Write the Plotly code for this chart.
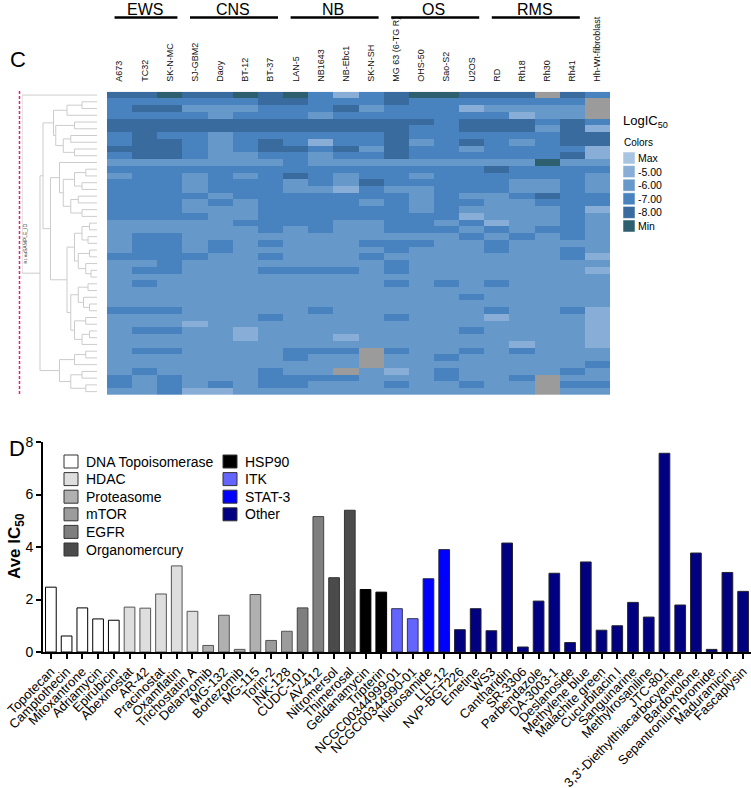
import plotly.graph_objects as go

W, H = 751, 788
FONT = "Arial, Liberation Sans, sans-serif"


def fx(p):
    return p / W


def fy(p):
    return 1 - p / H


# ---------------- panel C : heatmap data ----------------
cell_lines = ["A673", "TC32", "SK-N-MC", "SJ-GBM2", "Daoy", "BT-12", "BT-37",
              "LAN-5", "NB1643", "NB-Ebc1", "SK-N-SH", "MG 63 (6-TG R)", "OHS-50",
              "Sao-S2", "U2OS", "RD", "Rh18", "Rh30", "Rh41", "Hh-Wt-fibroblast"]
groups = [("EWS", 0, 2), ("CNS", 3, 6), ("NB", 7, 10), ("OS", 11, 14), ("RMS", 15, 18)]

# level codes: 0=Max, 1=-5, 2=-6, 3=-7, 4=-8, 5=Min, x=missing
heat_rows = [
    "445 4454 5313 4554 44x43",
    "333 3334 4333 4333 3333x",
    "344 2223 3342 3331 2222x",
    "333 3233 3233 3333 3122x",
    "444 4444 4444 4434 44343",
    "444 4444 4444 4334 44241",
    "343 3233 3333 4333 33344",
    "344 3234 3133 4234 32344",
    "444 3234 4342 4332 33331",
    "344 3223 3233 4333 33341",
    "222 2222 3222 2222 22522",
    "333 3333 3333 3333 43333",
    "233 2323 4323 3233 33332",
    "333 2333 2324 3333 32232",
    "333 2333 2213 2233 32232",
    "333 3233 3333 3232 23433",
    "333 2323 3332 3233 22333",
    "333 2223 3333 3232 22231",
    "333 3223 3333 3331 22232",
    "222 2233 3322 3323 12232",
    "222 2223 2322 3332 32332",
    "233 2222 2222 2223 23232",
    "233 2323 2223 3322 32222",
    "233 2322 2222 3222 32232",
    "333 3223 2223 2222 22231",
    "223 2222 2222 3222 22222",
    "233 2223 3332 3222 22221",
    "222 2222 2222 2222 22222",
    "232 2222 2222 3232 32222",
    "222 2222 2222 2222 22222",
    "222 2222 2222 2223 22222",
    "222 2222 2222 2222 22222",
    "333 2222 2322 2222 32231",
    "222 2223 2222 3222 12221",
    "222 1222 2222 2222 22221",
    "233 2212 2222 2223 22221",
    "222 2212 2212 2222 22221",
    "222 2222 2222 2222 21221",
    "233 2222 333x 3223 23222",
    "222 2222 322x 2232 22222",
    "222 2222 222x 2222 22223",
    "232 2223 22x2 1232 22232",
    "323 2223 3332 2232 23x22",
    "323 2323 3222 3223 22x33",
    "223 1122 2222 2222 22x22",
]
level_labels = ["Max", "-5.00", "-6.00", "-7.00", "-8.00", "Min"]
level_colors = ["#a9c4e1", "#88aed8", "#6698c9", "#4883bf", "#3a6b9e", "#2e5f6f"]
missing_color = "#9b9b9b"

# dendrogram (node = [height, left, right]; leaves = row indices)
tree = [1.0, 0,
        [0.76,
         [0.72,
          [0.58, [0.40, [0.20, 1, 2], 3],
           [0.55, [0.30, 4, 5], [0.45, [0.35, 6, 7], [0.30, 8, 9]]]],
          [0.62,
           [0.50, 10, [0.45, [0.30, [0.15, 11, 12], [0.20, 13, 14]],
                       [0.35, [0.25, 15, 16], [0.20, 17, 18]]]],
           [0.40,
            [0.30, [0.20, [0.10, 19, 20], [0.12, 21, 22]],
             [0.25, [0.10, 23, 24], [0.15, 25, [0.08, 26, 27]]]],
            [0.35, [0.25, [0.12, 28, 29], [0.18, 30, [0.10, 31, 32]]],
             [0.30, [0.15, 33, 34], [0.20, [0.10, 35, 36], 37]]]]]],
         [0.50, [0.30, [0.15, 38, 39], 40], [0.35, [0.20, 41, 42], [0.15, 43, 44]]]]]

# ---------------- panel D : bar data ----------------
drugs = ["Topotecan", "Camptothecin", "Mitoxantrone", "Adriamycin", "Epirubicin",
         "Abexinostat", "AR-42", "Pracinostat", "Oxamflatin", "Trichostatin A",
         "Delanzomib", "MG-132", "Bortezomib", "MG-115", "Torin-2", "INK-128",
         "CUDC-101", "AV-412", "Nitromersol", "Thimerosal", "Geldanamycin", "Tripterin",
         "NCGC00344999-01", "NCGC00344990-01", "Niclosamide", "LLL-12", "NVP-BGT226",
         "Emetine", "WS3", "Cantharidin", "SR-3306", "Parbendazole", "DA-3003-1",
         "Deslanoside", "Methylene blue", "Malachite green", "Cucurbitacin I",
         "Sanguinarine", "Methylrosaniline", "JTC-801", "3,3'-Diethylthiacarbocyanine",
         "Bardoxolone", "Sepantronium bromide", "Maduramicin", "Fascaplysin"]
ave_ic50 = [2.47, 0.61, 1.68, 1.26, 1.21, 1.71, 1.67, 2.21, 3.28, 1.55,
            0.25, 1.40, 0.10, 2.19, 0.44, 0.79, 1.68, 5.16, 2.83, 5.40,
            2.38, 2.28, 1.65, 1.27, 2.79, 3.90, 0.85, 1.65, 0.81, 4.15,
            0.19, 1.94, 3.00, 0.36, 3.43, 0.83, 1.00, 1.89, 1.33, 7.57,
            1.79, 3.77, 0.10, 3.03, 2.31]
drug_class = (["DNA Topoisomerase"] * 5 + ["HDAC"] * 5 + ["Proteasome"] * 4 +
              ["mTOR"] * 2 + ["EGFR"] * 2 + ["Organomercury"] * 2 + ["HSP90"] * 2 +
              ["ITK"] * 2 + ["STAT-3"] * 2 + ["Other"] * 19)
class_names = ["DNA Topoisomerase", "HDAC", "Proteasome", "mTOR", "EGFR",
               "Organomercury", "HSP90", "ITK", "STAT-3", "Other"]
class_fill = ["#ffffff", "#dedede", "#b0b0b0", "#9c9c9c", "#7f7f7f",
              "#4b4b4b", "#000000", "#6464ff", "#0000ff", "#000080"]
class_line = ["#000000", "#555555", "#555555", "#555555", "#444444",
              "#333333", "#000000", "#333355", "#222244", "#222233"]
legend_cols = [class_names[:6], class_names[6:]]

fig = go.Figure()

# ---- heatmap ----
cells = [r.replace(" ", "") for r in heat_rows]
z = [[None if ch == "x" else int(ch) for ch in r] for r in cells]
zmiss = [[1 if ch == "x" else None for ch in r] for r in cells]
nl = len(level_colors)
cs = []
for i, c in enumerate(level_colors):
    cs += [[i / nl, c], [(i + 1) / nl, c]]
rows = list(range(len(cells)))
fig.add_trace(go.Heatmap(z=z, x=cell_lines, y=rows, colorscale=cs, zmin=-0.5,
                         zmax=nl - 0.5, showscale=False, xaxis="x", yaxis="y",
                         hoverinfo="skip"))
fig.add_trace(go.Heatmap(z=zmiss, x=cell_lines, y=rows,
                         colorscale=[[0, missing_color], [1, missing_color]],
                         showscale=False, xaxis="x", yaxis="y", hoverinfo="skip"))

# ---- dendrogram ----
dx, dy = [], []


def walk(node):
    if isinstance(node, int):
        return node, 0.0
    h, a, b = node
    ya, ha = walk(a)
    yb, hb = walk(b)
    dx.extend([ha, h, h, hb, None])
    dy.extend([ya, ya, yb, yb, None])
    return (ya + yb) / 2, h


walk(tree)
fig.add_trace(go.Scatter(x=dx, y=dy, mode="lines", line=dict(color="#cccccc", width=1),
                         xaxis="x3", yaxis="y", hoverinfo="skip", showlegend=False))

# ---- bars ----
for k, cname in enumerate(class_names):
    idx = [i for i, c in enumerate(drug_class) if c == cname]
    fig.add_trace(go.Bar(x=[drugs[i] for i in idx], y=[ave_ic50[i] for i in idx],
                         marker=dict(color=class_fill[k],
                                     line=dict(color=class_line[k], width=1)),
                         width=0.68, xaxis="x2", yaxis="y2", showlegend=False,
                         name=cname))

shapes = []
ann = []

# group headers
for name, a, b in groups:
    shapes.append(dict(type="line", xref="x", yref="paper", x0=a - 0.5 + 0.3,
                       x1=b + 0.5 - 0.2, y0=fy(17.5), y1=fy(17.5),
                       line=dict(color="black", width=2.5)))
    ann.append(dict(text=name, xref="x", yref="paper", x=(a + b) / 2, y=fy(9.5),
                    showarrow=False, font=dict(size=16, color="black", family=FONT),
                    xanchor="center", yanchor="middle"))

# magenta cut line + tiny labels
shapes.append(dict(type="line", xref="paper", yref="paper", x0=fx(19.5), x1=fx(19.5),
                   y0=fy(91), y1=fy(396), line=dict(color="#e0218a", width=1.5, dash="3px,2px")))
ann.append(dict(text="SAMPLE_ID", xref="paper", yref="paper", x=fx(20), y=fy(222),
                textangle=-90, showarrow=False, font=dict(size=5, color="#333", family=FONT)))
ann.append(dict(text="R1 tbd", xref="paper", yref="paper", x=fx(20), y=fy(250),
                textangle=-90, showarrow=False, font=dict(size=4, color="#333", family=FONT)))

# LogIC50 legend
ann.append(dict(text="LogIC<sub>50</sub>", xref="paper", yref="paper", x=fx(621), y=fy(121),
                xanchor="left", yanchor="middle", showarrow=False,
                font=dict(size=13, color="black", family=FONT)))
ann.append(dict(text="Colors", xref="paper", yref="paper", x=fx(622), y=fy(142),
                xanchor="left", yanchor="middle", showarrow=False,
                font=dict(size=10, color="black", family=FONT)))
for i, (lab, col) in enumerate(zip(level_labels, level_colors)):
    top = 152 + i * 13.6
    shapes.append(dict(type="rect", xref="paper", yref="paper", x0=fx(623), x1=fx(635),
                       y0=fy(top + 12), y1=fy(top), fillcolor=col,
                       line=dict(width=0.5, color="#ffffff")))
    ann.append(dict(text=lab, xref="paper", yref="paper", x=fx(636), y=fy(top + 6),
                    xanchor="left", yanchor="middle", showarrow=False,
                    font=dict(size=10.5, color="black", family=FONT)))

# bar legend
col_x = [64, 223]
for ci, names in enumerate(legend_cols):
    for j, cname in enumerate(names):
        k = class_names.index(cname)
        cy = 461.5 + j * 17.6
        shapes.append(dict(type="rect", xref="paper", yref="paper", x0=fx(col_x[ci]),
                           x1=fx(col_x[ci] + 14), y0=fy(cy + 6.5), y1=fy(cy - 6.5),
                           fillcolor=class_fill[k], line=dict(color="#333333", width=1)))
        ann.append(dict(text=cname, xref="paper", yref="paper", x=fx(col_x[ci] + 20),
                        y=fy(cy), xanchor="left", yanchor="middle", showarrow=False,
                        font=dict(size=14, color="black", family=FONT)))

# panel letters + y title
ann.append(dict(text="C", xref="paper", yref="paper", x=fx(8), y=fy(45), showarrow=False,
                font=dict(size=22, color="black", family=FONT)))
ann.append(dict(text="D", xref="paper", yref="paper", x=fx(7), y=fy(448), showarrow=False,
                font=dict(size=22, color="black", family=FONT)))
ann.append(dict(text="<b>Ave IC<sub>50</sub></b>", xref="paper", yref="paper", x=fx(3),
                y=fy(581), textangle=-90, showarrow=False,
                font=dict(size=17, color="black", family=FONT)))

fig.update_layout(
    width=W, height=H, margin=dict(l=0, r=0, t=0, b=0, autoexpand=False),
    paper_bgcolor="white", plot_bgcolor="white", showlegend=False,
    font=dict(family=FONT, color="black"),
    bargap=0.3,
    xaxis=dict(domain=[fx(107), fx(610)], anchor="y", side="top", tickangle=-90,
               tickfont=dict(size=9, color="#111"), ticks="", showgrid=False,
               zeroline=False, showline=False, ticklabelstandoff=9, automargin=False),
    yaxis=dict(domain=[fy(395), fy(91.7)], range=[len(cells) - 0.5, -0.5],
               visible=False, automargin=False),
    xaxis3=dict(domain=[fx(22), fx(97)], range=[1, 0], anchor="y", visible=False,
                automargin=False),
    xaxis2=dict(domain=[fx(43), 1.0], anchor="y2", categoryorder="array",
                categoryarray=drugs, range=[-0.5, len(drugs) - 0.5], tickangle=-45,
                tickmode="array", tickvals=drugs, ticktext=drugs,
                ticks="outside", ticklen=5, tickwidth=1.5, tickcolor="black",
                showline=True, linecolor="black", linewidth=2, showgrid=False,
                zeroline=False, tickfont=dict(size=13, color="black"), automargin=False),
    yaxis2=dict(domain=[fy(652), fy(442)], anchor="x2", range=[0, 8],
                tickvals=[0, 2, 4, 6, 8], ticks="outside", ticklen=5, tickwidth=1.5,
                tickcolor="black", showline=True, linecolor="black", linewidth=2,
                showgrid=False, zeroline=False, tickfont=dict(size=14, color="black"),
                automargin=False),
    shapes=shapes, annotations=ann,
)

fig.write_html("out.html", config={"displayModeBar": False},
               post_script="document.body.style.margin='0';document.body.style.padding='0';")
